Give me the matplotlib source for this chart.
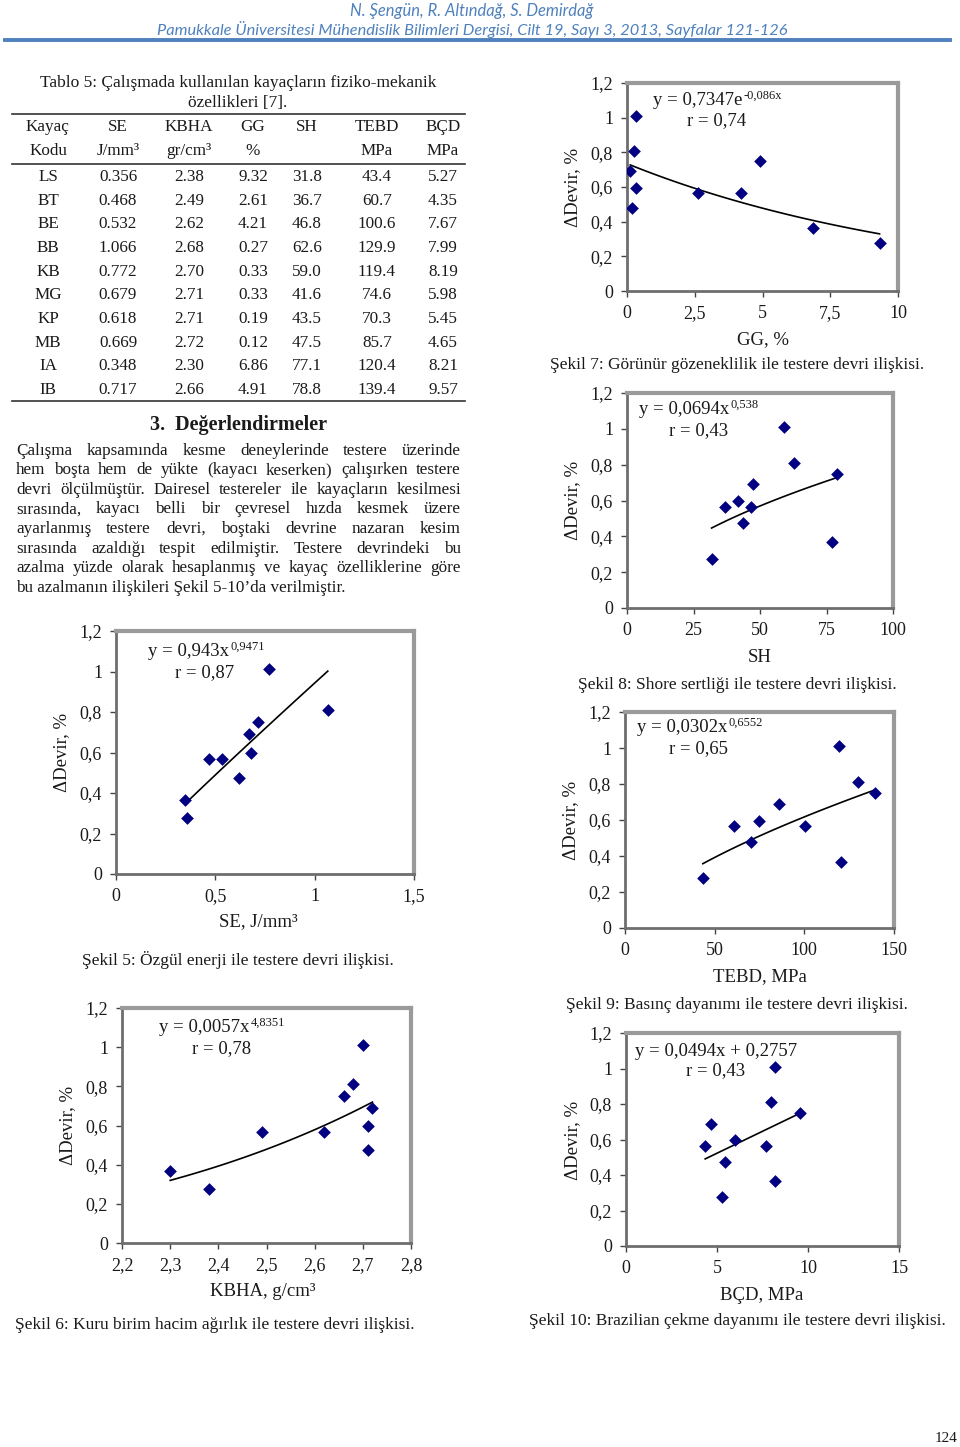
import matplotlib
matplotlib.use('Agg')
import matplotlib.pyplot as plt
import numpy as np
from matplotlib.lines import Line2D

# --- data (Tablo 5) ---
rock = ['LS', 'BT', 'BE', 'BB', 'KB', 'MG', 'KP', 'MB', 'IA', 'IB']
se = [0.356, 0.468, 0.532, 1.066, 0.772, 0.679, 0.618, 0.669, 0.348, 0.717]
kbha = [2.38, 2.49, 2.62, 2.68, 2.70, 2.71, 2.71, 2.72, 2.30, 2.66]
gg = [9.32, 2.61, 4.21, 0.27, 0.33, 0.33, 0.19, 0.12, 6.86, 4.91]
sh = [31.8, 36.7, 46.8, 62.6, 59.0, 41.6, 43.5, 47.5, 77.1, 78.8]
tebd = [43.4, 60.7, 100.6, 129.9, 119.4, 74.6, 70.3, 85.7, 120.4, 139.4]
bcd = [5.27, 4.35, 7.67, 7.99, 8.19, 5.98, 5.45, 4.65, 8.21, 9.57]
# devir azalmasi (%)
devir = [0.276, 0.566, 0.566, 0.81, 1.01, 0.596, 0.476, 0.69, 0.366, 0.75]

# trend line coefficients as printed on the charts
fit_se = (0.943, 0.9471)
fit_kbha = (0.0057, 4.8351)
fit_gg = (0.7347, -0.086)
fit_sh = (0.0694, 0.538)
fit_tebd = (0.0302, 0.6552)
fit_bcd = (0.0494, 0.2757)

W, H = 960, 1447
fig = plt.figure(figsize=(W / 100, H / 100), dpi=100)
fig.patch.set_facecolor('white')

SERIF = 'Liberation Serif'
TXT = '#1a1a1a'
BLUE = '#4f81bd'
FS = 12.3   # body / table font size


def ftext(x, y, s, **kw):
    return fig.text(x / W, 1 - y / H, s, **kw)


def hline(x0, x1, y, lw=1.2, color='#333333'):
    fig.add_artist(Line2D([x0 / W, x1 / W], [1 - y / H, 1 - y / H],
                          transform=fig.transFigure, lw=lw, color=color))


def justify(line, y, x0, x1, **kw):
    words = line.split(' ')
    r = fig.canvas.get_renderer()
    widths = []
    for w in words:
        t = fig.text(0, 0, w, **kw)
        widths.append(t.get_window_extent(r).width)
        t.remove()
    gap = (x1 - x0 - sum(widths)) / (len(words) - 1)
    x = x0
    for w, wd in zip(words, widths):
        ftext(x, y, w, ha='left', va='center', **kw)
        x += wd + gap


# --- header ---
ftext(472, 11, 'N. Şengün, R. Altındağ, S. Demirdağ', ha='center', va='center',
      family='Lato', style='italic', fontsize=11.9, color=BLUE)
ftext(472, 30, 'Pamukkale Üniversitesi Mühendislik Bilimleri Dergisi, Cilt 19, Sayı 3, 2013, Sayfalar 121-126',
      ha='center', va='center', family='Lato', style='italic', fontsize=11.8, color=BLUE)
hline(5, 950, 40, lw=2.8, color=BLUE)

# --- table ---
ftext(238, 83, 'Tablo 5: Çalışmada kullanılan kayaçların fiziko-mekanik', ha='center', va='center',
      family=SERIF, fontsize=12.5, color=TXT)
ftext(238, 103, 'özellikleri [7].', ha='center', va='center', family=SERIF, fontsize=12.5, color=TXT)
hline(12, 465, 114)
hline(12, 465, 164)
hline(12, 465, 401)

col_x = [48, 118, 189, 253, 307, 377, 443]
head1 = ['Kayaç', 'SE', 'KBHA', 'GG', 'SH', 'TEBD', 'BÇD']
head2 = ['Kodu', 'J/mm³', 'gr/cm³', '%', '', 'MPa', 'MPa']
for cx, a, b in zip(col_x, head1, head2):
    ftext(cx, 127, a, ha='center', va='center', family=SERIF, fontsize=FS, color=TXT)
    ftext(cx, 151, b, ha='center', va='center', family=SERIF, fontsize=FS, color=TXT)

cols = [rock,
        ['%.3f' % v for v in se],
        ['%.2f' % v for v in kbha],
        ['%.2f' % v for v in gg],
        ['%.1f' % v for v in sh],
        ['%.1f' % v for v in tebd],
        ['%.2f' % v for v in bcd]]
for i in range(len(rock)):
    ry = 177 + i * 23.67
    for cx, c in zip(col_x, cols):
        ftext(cx, ry, c[i], ha='center', va='center', family=SERIF, fontsize=FS, color=TXT)

# --- section text ---
ftext(238, 425, '3.  Değerlendirmeler', ha='center', va='center', family=SERIF,
      fontsize=14.5, weight='bold', color=TXT)
body = ['Çalışma kapsamında kesme deneylerinde testere üzerinde',
        'hem boşta hem de yükte (kayacı keserken) çalışırken testere',
        'devri ölçülmüştür. Dairesel testereler ile kayaçların kesilmesi',
        'sırasında, kayacı belli bir çevresel hızda kesmek üzere',
        'ayarlanmış testere devri, boştaki devrine nazaran kesim',
        'sırasında azaldığı tespit edilmiştir. Testere devrindeki bu',
        'azalma yüzde olarak hesaplanmış ve kayaç özelliklerine göre']
for i, ln in enumerate(body):
    justify(ln, 451 + i * 19.5, 16, 461, family=SERIF, fontsize=FS, color=TXT)
ftext(16, 451 + 7 * 19.5, 'bu azalmanın ilişkileri Şekil 5-10’da verilmiştir.', ha='left', va='center',
      family=SERIF, fontsize=FS, color=TXT)


# --- charts ---
def chart(box, x, xlim, xticks, xtl, fit, kind, eq, sup, eqpos, rpos, rtxt,
          xlabel, xlpos, ylpos, caption, cappos):
    x0, y0, x1, y1 = box
    ax = fig.add_axes([x0 / W, 1 - y1 / H, (x1 - x0) / W, (y1 - y0) / H])
    ax.scatter(x, devir, marker='D', s=42, color='#000080', zorder=3, linewidths=0)
    xs = np.linspace(min(x), max(x), 100)
    a, b = fit
    if kind == 'pow':
        ys = a * xs ** b
    elif kind == 'exp':
        ys = a * np.exp(b * xs)
    else:
        ys = a * xs + b
    ax.plot(xs, ys, color='black', lw=1.2, zorder=2)
    ax.set_xlim(xlim)
    ax.set_ylim(0, 1.2)
    ax.set_xticks(xticks)
    ax.set_xticklabels(xtl)
    ax.set_yticks([0, 0.2, 0.4, 0.6, 0.8, 1.0, 1.2])
    ax.set_yticklabels(['0', '0,2', '0,4', '0,6', '0,8', '1', '1,2'])
    for s in ['top', 'right']:
        ax.spines[s].set_color('#9a9a9a')
        ax.spines[s].set_linewidth(3)
    for s in ['left', 'bottom']:
        ax.spines[s].set_color('#6e6e6e')
        ax.spines[s].set_linewidth(2)
    ax.tick_params(direction='out', length=4, width=1, color='#444444', pad=6,
                   labelsize=13, labelcolor=TXT)
    for lab in ax.get_xticklabels() + ax.get_yticklabels():
        lab.set_family(SERIF)
    t = ax.text(eqpos[0], eqpos[1], eq, transform=ax.transAxes, ha='left', va='center',
                family=SERIF, fontsize=13.5, color=TXT)
    if sup:
        ax.annotate(sup, xy=(1.0, 0.78), xycoords=t, xytext=(1, 0), textcoords='offset points',
                    ha='left', va='center', family=SERIF, fontsize=9, color=TXT)
    ax.text(rpos[0], rpos[1], rtxt, transform=ax.transAxes, ha='left', va='center',
            family=SERIF, fontsize=13.5, color=TXT)
    ftext(xlpos[0], xlpos[1], xlabel, ha='center', va='center', family=SERIF, fontsize=13.5, color=TXT)
    ftext(ylpos[0], ylpos[1], 'ΔDevir, %', ha='center', va='center', rotation=90,
          family=SERIF, fontsize=13.5, color=TXT)
    ftext(cappos[0], cappos[1], caption, ha='center', va='center', family=SERIF, fontsize=12.5, color=TXT)
    return ax


chart((116, 631, 414, 874), se, (0, 1.5), [0, 0.5, 1, 1.5], ['0', '0,5', '1', '1,5'],
      fit_se, 'pow', 'y = 0,943x', '0,9471', (0.107, 0.914), (0.198, 0.827), 'r = 0,87',
      'SE, J/mm³', (258, 922), (62, 752), 'Şekil 5: Özgül enerji ile testere devri ilişkisi.', (238, 960))

chart((122, 1008, 411, 1243), kbha, (2.2, 2.8), [2.2, 2.3, 2.4, 2.5, 2.6, 2.7, 2.8],
      ['2,2', '2,3', '2,4', '2,5', '2,6', '2,7', '2,8'],
      fit_kbha, 'pow', 'y = 0,0057x', '4,8351', (0.128, 0.915), (0.242, 0.826), 'r = 0,78',
      'KBHA, g/cm³', (263, 1291), (68, 1125), 'Şekil 6: Kuru birim hacim ağırlık ile testere devri ilişkisi.',
      (215, 1325))

chart((627, 83, 898, 291), gg, (0, 10), [0, 2.5, 5, 7.5, 10], ['0', '2,5', '5', '7,5', '10'],
      fit_gg, 'exp', 'y = 0,7347e', '-0,086x', (0.096, 0.918), (0.221, 0.817), 'r = 0,74',
      'GG, %', (763, 340), (573, 187), 'Şekil 7: Görünür gözeneklilik ile testere devri ilişkisi.', (737, 365))

chart((627, 393, 893, 608), sh, (0, 100), [0, 25, 50, 75, 100], ['0', '25', '50', '75', '100'],
      fit_sh, 'pow', 'y = 0,0694x', '0,538', (0.045, 0.921), (0.158, 0.823), 'r = 0,43',
      'SH', (760, 657), (573, 500), 'Şekil 8: Shore sertliği ile testere devri ilişkisi.', (737, 685))

chart((625, 712, 894, 928), tebd, (0, 150), [0, 50, 100, 150], ['0', '50', '100', '150'],
      fit_tebd, 'pow', 'y = 0,0302x', '0,6552', (0.045, 0.926), (0.164, 0.829), 'r = 0,65',
      'TEBD, MPa', (760, 977), (571, 820), 'Şekil 9: Basınç dayanımı ile testere devri ilişkisi.', (737, 1005))

chart((626, 1033, 899, 1246), bcd, (0, 15), [0, 5, 10, 15], ['0', '5', '10', '15'],
      fit_bcd, 'lin', 'y = 0,0494x + 0,2757', None, (0.033, 0.915), (0.220, 0.822), 'r = 0,43',
      'BÇD, MPa', (762, 1295), (573, 1140), 'Şekil 10: Brazilian çekme dayanımı ile testere devri ilişkisi.',
      (737, 1321))

ftext(958, 1438, '124', ha='right', va='center', family=SERIF, fontsize=11, color=TXT)

fig.savefig('out.png', dpi=100)
